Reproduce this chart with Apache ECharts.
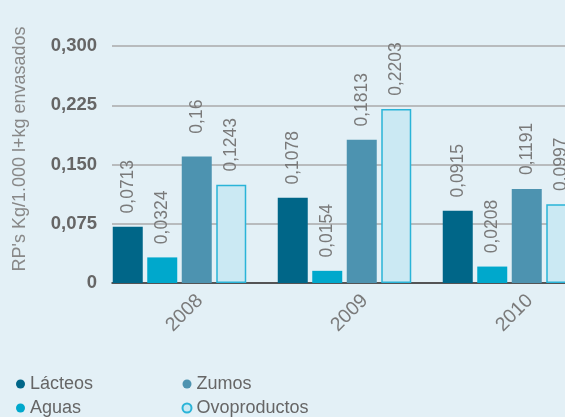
<!DOCTYPE html>
<html>
<head>
<meta charset="utf-8">
<script src="https://cdn.jsdelivr.net/npm/echarts@6/dist/echarts.min.js"></script>
<style>
  html, body { margin: 0; padding: 0; background: #e3f0f6; }
  #chart { width: 565px; height: 417px; }
</style>
</head>
<body>
<div id="chart"></div>
<script>
var years = ["2008", "2009", "2010"];
var lacteos = [0.0713, 0.1078, 0.0915];
var aguas = [0.0324, 0.0154, 0.0208];
var zumos = [0.16, 0.1813, 0.1191];
var ovoproductos = [0.1243, 0.2203, 0.0997];

function fmt(v) {
    return String(v).replace(".", ",");
}

var dom = document.getElementById("chart");
var myChart = echarts.init(dom, null, { renderer: "canvas" });

var font = "'Liberation Sans', Arial, sans-serif";

var barLabel = {
    show: true,
    position: "top",
    distance: 40,
    rotate: 90,
    align: "center",
    verticalAlign: "middle",
    color: "#7a7a7a",
    fontFamily: font,
    fontSize: 17.5,
    formatter: function (p) { return fmt(p.value); }
};

function bar(name, data, style) {
    return {
        name: name,
        type: "bar",
        xAxisIndex: 1,
        yAxisIndex: 1,
        data: data,
        barWidth: 30,
        barGap: "15%",
        itemStyle: style,
        label: barLabel
    };
}

var legendText = { color: "#666", fontSize: 18, fontFamily: font };

var option = {
    backgroundColor: "#e3f0f6",
    animation: false,
    textStyle: { fontFamily: font },
    grid: [
        { left: 112, top: 46, right: 0, bottom: 134, outerBoundsMode: "none" },
        { left: 97, top: 46, width: 495, bottom: 134, outerBoundsMode: "none" }
    ],
    xAxis: [
        {
            gridIndex: 0,
            type: "category",
            data: [""],
            axisLine: { lineStyle: { color: "#333", width: 1.5 } },
            axisTick: { show: false },
            axisLabel: { show: false }
        },
        {
            gridIndex: 1,
            type: "category",
            data: years,
            axisLine: { show: false },
            axisTick: { show: false },
            axisLabel: {
                rotate: 45,
                margin: 35,
                align: "center",
                verticalAlign: "middle",
                padding: [22, 0, 0, 14],
                color: "#7a7a7a",
                fontSize: 19.5,
                fontFamily: font
            }
        }
    ],
    yAxis: [
        {
            gridIndex: 0,
            type: "value",
            min: 0,
            max: 0.3,
            interval: 0.075,
            axisLine: { show: false },
            axisTick: { show: false },
            splitLine: { lineStyle: { color: "#aaaaaa", width: 1.5 } },
            axisLabel: {
                margin: 15,
                color: "#666",
                fontSize: 18.5,
                fontWeight: "bold",
                fontFamily: font,
                formatter: function (v) { return v === 0 ? "0" : v.toFixed(3).replace(".", ","); }
            }
        },
        {
            gridIndex: 1,
            type: "value",
            min: 0,
            max: 0.3,
            show: false
        }
    ],
    legend: [
        {
            data: ["Lácteos", "Aguas"],
            orient: "vertical",
            left: 16,
            top: 375,
            padding: 0,
            icon: "circle",
            itemWidth: 9,
            itemHeight: 9,
            itemGap: 6,
            textStyle: legendText
        },
        {
            data: ["Zumos", "Ovoproductos"],
            orient: "vertical",
            left: 181.5,
            top: 375,
            padding: 0,
            icon: "circle",
            itemWidth: 9,
            itemHeight: 9,
            itemGap: 6,
            textStyle: legendText
        }
    ],
    graphic: [
        {
            type: "text",
            x: 20,
            y: 149,
            rotation: Math.PI / 2,
            style: {
                text: "RP's Kg/1.000 l+kg envasados",
                fill: "#888",
                fontSize: 18,
                fontFamily: font,
                align: "center",
                verticalAlign: "middle"
            }
        }
    ],
    series: [
        bar("Lácteos", lacteos, { color: "#006688" }),
        bar("Aguas", aguas, { color: "#00a8cc" }),
        bar("Zumos", zumos, { color: "#4d93b0" }),
        bar("Ovoproductos", ovoproductos, { color: "#cbe9f3", borderColor: "#2ab4d8", borderWidth: 1.5 })
    ]
};

myChart.setOption(option);
window.addEventListener("resize", myChart.resize);
</script>
</body>
</html>
